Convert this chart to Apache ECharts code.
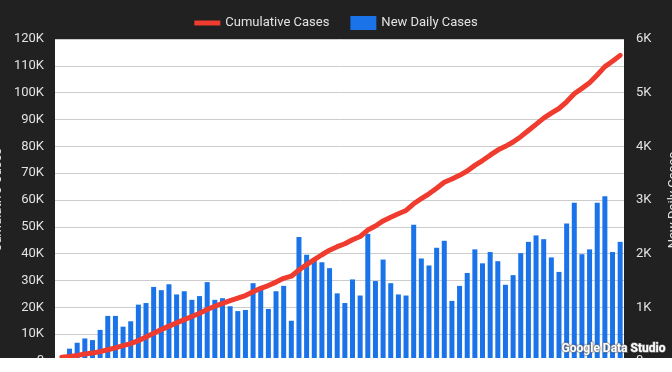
<!DOCTYPE html>
<html><head><meta charset="utf-8">
<script src="https://cdn.jsdelivr.net/npm/echarts@6/dist/echarts.min.js"></script>
<style>
html,body{margin:0;padding:0;background:#fff;}
#wrap{width:672px;height:358px;overflow:hidden;position:relative;background:#212121;}
#chart{width:672px;height:380px;}
</style></head><body>
<div id="wrap"><div id="chart"></div></div>
<script>
const seriesNames = ['Cumulative Cases', 'New Daily Cases'];
const cumulativeCases = [
  1400, 1700, 2100, 2600, 3000, 3500, 4200, 4900, 5700, 6500,
  7600, 8900, 10300, 11700, 13000, 14200, 15400, 16600, 17800, 19200,
  20400, 21500, 22500, 23400, 24400, 25800, 27100, 28100, 29400, 30800,
  31600, 33900, 35900, 37800, 39600, 41300, 42600, 43700, 45200, 46400,
  48800, 50300, 52200, 53600, 54900, 56100, 58600, 60500, 62300, 64400,
  66600, 67800, 69200, 70800, 72900, 74700, 76700, 78600, 80000, 81600,
  83600, 85900, 88200, 90500, 92400, 94100, 96600, 99600, 101600, 103700,
  106600, 109700, 111700, 113900
];
const newDailyCases = [
  50, 230, 340, 420, 390, 580, 840, 840, 640, 740,
  1050, 1080, 1380, 1320, 1430, 1240, 1300, 1140, 1210, 1470,
  1140, 1170, 1020, 930, 950, 1450, 1340, 970, 1300, 1400,
  750, 2310, 1980, 1880, 1840, 1730, 1260, 1080, 1520, 1220,
  2370, 1490, 1890, 1450, 1240, 1220, 2540, 1910, 1780, 2110,
  2240, 1120, 1400, 1640, 2080, 1820, 2030, 1860, 1420, 1600,
  2010, 2220, 2340, 2270, 1930, 1660, 2560, 2950, 1990, 2080,
  2950, 3070, 2030, 2220
];
const leftTicks = {min: 0, max: 120000, step: 10000};
const rightTicks = {min: 0, max: 6000, step: 1000};
const fmtK = v => v === 0 ? '0' : (v / 1000) + 'K';

const dayIdx = newDailyCases.map((_, i) => i);
const chart = echarts.init(document.getElementById('chart'), null, {renderer: 'canvas'});
const txt = '#e2e2e2';
const red = '#f03c2f';
chart.setOption({
  backgroundColor: '#212121',
  animation: false,
  textStyle: {fontFamily: 'Roboto'},
  legend: {
    top: 11, left: 'center',
    itemWidth: 26, itemHeight: 14, itemGap: 21,
    textStyle: {color: txt, fontSize: 13, fontFamily: 'Roboto'},
    data: [
      {name: seriesNames[0], icon: 'path://M0,0H26V5H0Z', itemStyle: {color: red}, lineStyle: {width: 5, color: red}},
      {name: seriesNames[1], icon: 'rect'}
    ]
  },
  grid: {left: 55, width: 569, top: 39, height: 322, show: true, backgroundColor: '#ffffff', borderWidth: 0,
         containLabel: false, outerBoundsMode: 'none'},
  xAxis: {type: 'value', min: -0.9, max: 73.5, show: false},
  yAxis: [
    {type: 'value', min: leftTicks.min, max: leftTicks.max, interval: leftTicks.step,
     name: 'Cumulative Cases', nameLocation: 'middle', nameGap: 51, nameRotate: 90, nameMoveOverlap: false,
     nameTextStyle: {color: txt, fontSize: 13, fontFamily: 'Roboto'},
     axisLine: {show: false}, axisTick: {show: false},
     axisLabel: {color: txt, fontSize: 13, margin: 11, formatter: fmtK},
     splitLine: {lineStyle: {color: '#cccccc', width: 1}}},
    {type: 'value', min: rightTicks.min, max: rightTicks.max, interval: rightTicks.step,
     name: 'New Daily Cases', nameLocation: 'middle', nameGap: 43, nameRotate: 90, nameMoveOverlap: false,
     nameTextStyle: {color: txt, fontSize: 13, fontFamily: 'Roboto'},
     axisLine: {show: false}, axisTick: {show: false},
     axisLabel: {color: txt, fontSize: 13, margin: 12, formatter: fmtK},
     splitLine: {show: false}}
  ],
  series: [
    {name: seriesNames[1], type: 'bar', yAxisIndex: 1, barWidth: 5,
     itemStyle: {color: '#1a73e8'},
     data: newDailyCases.map((v, i) => [dayIdx[i], v]), z: 2},
    {name: seriesNames[0], type: 'line', yAxisIndex: 0, showSymbol: false, symbol: 'none',
     lineStyle: {color: red, width: 5, cap: 'round', join: 'round'},
     itemStyle: {color: red},
     data: cumulativeCases.map((v, i) => [dayIdx[i], v]), z: 3}
  ],
  graphic: [
    {type: 'text', right: 6, top: 342, z: 100,
     style: {text: 'Google Data Studio', fill: '#ffffff', font: 'bold 12px Roboto',
             stroke: '#9a9a9a', lineWidth: 1.2, textShadowColor: 'rgba(0,0,0,0.3)', textShadowBlur: 2}}
  ]
});
</script>
</body></html>
